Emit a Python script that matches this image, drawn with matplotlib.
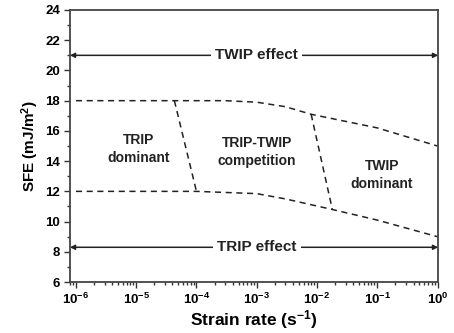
import numpy as np
import matplotlib
matplotlib.use("Agg")
import matplotlib.pyplot as plt

plt.rcParams['font.family'] = ['Liberation Sans', 'DejaVu Sans']
plt.rcParams['font.weight'] = 'bold'
plt.rcParams['mathtext.fontset'] = 'custom'
plt.rcParams['mathtext.rm'] = 'Liberation Sans:bold'
plt.rcParams['mathtext.bf'] = 'Liberation Sans:bold'
plt.rcParams['mathtext.default'] = 'bf'

# boundary curves (strain rate, SFE)
upper_x = [1e-6, 3e-4, 1e-3, 3e-3, 8e-3, 1e-1, 1e0]
upper_y = [18.0, 18.0, 17.9, 17.6, 17.1, 16.2, 15.0]
lower_x = [1e-6, 1e-4, 1e-3, 3e-3, 1.8e-2, 1e-1, 1e0]
lower_y = [12.0, 12.0, 11.85, 11.5, 10.8, 10.1, 9.0]

# slanted region boundaries
split1_x = [4.3e-5, 1e-4]
split1_y = [18.0, 12.0]
split2_x = [8e-3, 1.8e-2]
split2_y = [17.1, 10.8]

# region labels
region_labels = ["TRIP\ndominant", "TRIP-TWIP\ncompetition", "TWIP\ndominant"]
region_x = [1.1e-5, 1e-3, 1.2e-1]
region_y = [14.8, 14.6, 13.1]

# effect arrows
effect_labels = ["TWIP effect", "TRIP effect"]
effect_y = [21.0, 8.3]

x_lo, x_hi = 10 ** -6.1, 10 ** 0.01

fig = plt.figure(figsize=(4.54, 3.33), dpi=100)
ax = fig.add_axes([0.154, 0.153, 0.811, 0.817])

dash = (0, (4, 3))
ax.plot(upper_x, upper_y, color='#222222', lw=1.1, ls=dash)
ax.plot(lower_x, lower_y, color='#222222', lw=1.1, ls=dash)
ax.plot(split1_x, split1_y, color='#222222', lw=1.1, ls=dash)
ax.plot(split2_x, split2_y, color='#222222', lw=1.1, ls=dash)

for lab, xx, yy in zip(region_labels, region_x, region_y):
    ax.text(xx, yy, lab, ha='center', va='center', fontsize=10,
            fontweight='bold', linespacing=1.35, color='#222222')

for lab, yy in zip(effect_labels, effect_y):
    ax.annotate('', xy=(x_hi, yy), xytext=(x_lo, yy),
                arrowprops=dict(arrowstyle='<|-|>', color='#222222', lw=1.1,
                                mutation_scale=7, shrinkA=0, shrinkB=0))
    ax.text(10 ** -3.0, yy, lab, ha='center', va='center', fontsize=11,
            fontweight='bold', color='#222222',
            bbox=dict(facecolor='white', edgecolor='none', pad=3))

ax.set_xscale('log')
ax.set_xlim(x_lo, x_hi)
ax.set_ylim(6, 24)
ax.set_yticks(np.arange(6, 25, 2))
ax.set_yticks(np.arange(7, 24, 2), minor=True)
ax.set_xticks([1e-6, 1e-5, 1e-4, 1e-3, 1e-2, 1e-1, 1e0])
ax.xaxis.set_minor_locator(matplotlib.ticker.LogLocator(base=10, subs=np.arange(2, 10), numticks=20))
ax.xaxis.set_minor_formatter(matplotlib.ticker.NullFormatter())

ax.tick_params(which='both', direction='out', top=False, right=False,
               labelsize=9.5, width=1.0, color='#333333')
ax.tick_params(which='major', length=4, pad=3)
ax.tick_params(which='minor', length=2)
for lab in ax.get_xticklabels() + ax.get_yticklabels():
    lab.set_fontweight('bold')

for sp in ax.spines.values():
    sp.set_linewidth(1.3)
    sp.set_color('#444444')

ax.set_xlabel('Strain rate (s$^{-1}$)', fontsize=12.5, fontweight='bold', labelpad=1)
ax.set_ylabel('SFE (mJ/m$^{2}$)', fontsize=11, fontweight='bold', labelpad=3)

fig.savefig('out.png', dpi=100)
